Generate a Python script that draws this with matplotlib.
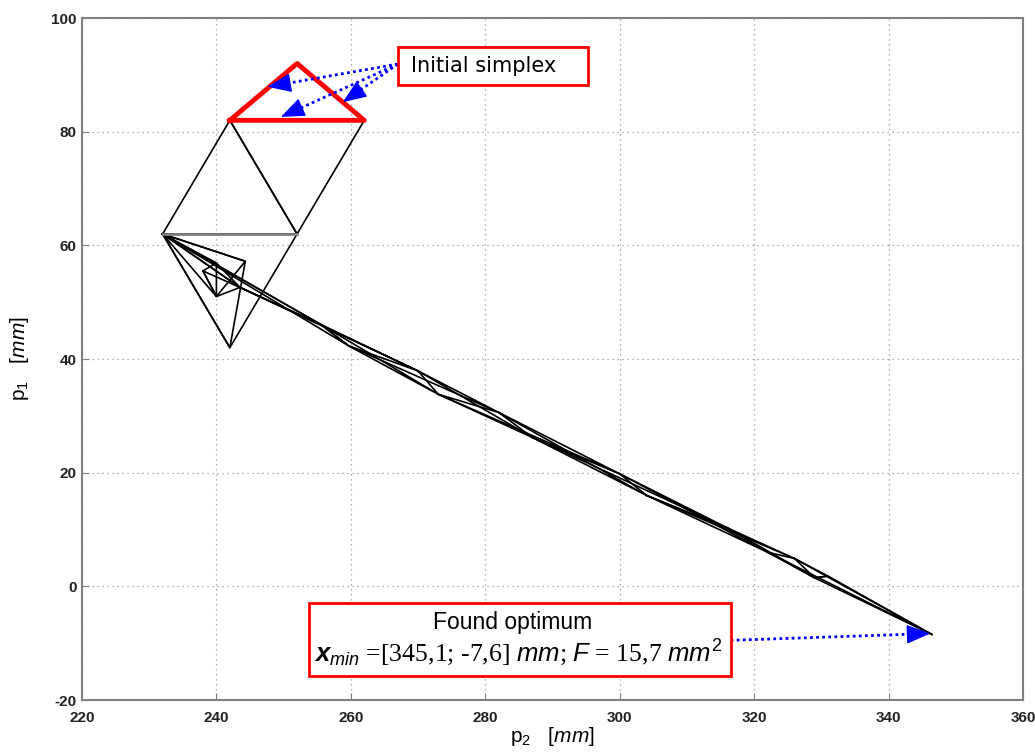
import matplotlib
matplotlib.use("Agg")
import matplotlib.pyplot as plt
from matplotlib.patches import Rectangle

plt.rcParams['font.family'] = ['Liberation Sans', 'DejaVu Sans']
plt.rcParams['mathtext.fontset'] = 'custom'
plt.rcParams['mathtext.it'] = 'Liberation Sans:italic'
plt.rcParams['mathtext.bf'] = 'Liberation Sans:italic:bold'
plt.rcParams['mathtext.rm'] = 'Liberation Sans'
plt.rcParams['axes.unicode_minus'] = False

# Initial simplex (p2, p1)
init_p2 = [242, 252, 262]
init_p1 = [82, 92, 82]

# Simplex triangles visited by the search (p2, p1 vertices)
tri_p2 = [
    [242, 262, 252],
    [242, 252, 232],
    [232, 252, 242],
    [232, 242, 244.3],
    [232, 244.3, 240],
    [238, 240, 240],
    [238, 240, 243.5],
    [232, 240, 243.5],
    [232, 243.5, 255.5],
    [232, 255.5, 259.7],
    [243.5, 255.5, 270],
    [255.5, 259.7, 273],
    [259.7, 270, 282],
    [270, 273, 287],
    [273, 282, 300],
    [282, 287, 304],
    [287, 300, 316],
    [300, 304, 322],
    [304, 316, 326],
    [316, 322, 329],
    [322, 326, 346.5],
    [326, 329, 331],
    [329, 346.5, 331],
]
tri_p1 = [
    [82, 82, 62],
    [82, 62, 62],
    [62, 62, 42],
    [62, 42, 57.2],
    [62, 57.2, 51],
    [55.5, 56.9, 51],
    [55.5, 51, 52.6],
    [62, 56.9, 52.6],
    [62, 52.6, 46.1],
    [62, 46.1, 42.3],
    [52.6, 46.1, 37.9],
    [46.1, 42.3, 33.8],
    [42.3, 37.9, 30.6],
    [37.9, 33.8, 26.2],
    [33.8, 30.6, 19.8],
    [30.6, 26.2, 16.0],
    [26.2, 19.8, 10.3],
    [19.8, 16.0, 6.0],
    [16.0, 10.3, 4.9],
    [10.3, 6.0, 1.5],
    [6.0, 4.9, -8.5],
    [4.9, 1.5, 1.8],
    [1.5, -8.5, 1.8],
]

# gray edge
gray_p2 = [232, 252]
gray_p1 = [62, 62]

optimum = (346.2, -8.3)

xticks = [220, 240, 260, 280, 300, 320, 340, 360]
yticks = [-20, 0, 20, 40, 60, 80, 100]

fig = plt.figure(figsize=(10.35, 7.54), dpi=100)
ax = fig.add_axes([0.0792, 0.0716, 0.9092, 0.9045])

for xs, ys in zip(tri_p2, tri_p1):
    ax.plot(xs + [xs[0]], ys + [ys[0]], color='black', lw=1.2, zorder=3)
ax.plot(gray_p2, gray_p1, color='#7f7f7f', lw=2, zorder=3.5)
ax.plot(init_p2 + [init_p2[0]], init_p1 + [init_p1[0]], color='red', lw=3.5, zorder=4)

ax.set_xlim(220, 360)
ax.set_ylim(-20, 100)
ax.set_xticks(xticks)
ax.set_yticks(yticks)
ax.grid(True, linestyle=(0, (1, 3)), color='#999999', lw=0.9)
ax.tick_params(direction='in', length=5, color='#808080', labelsize=11)
ax.tick_params(axis='x', pad=8)
ax.tick_params(axis='y', pad=4)
for lab in ax.get_xticklabels() + ax.get_yticklabels():
    lab.set_fontweight('bold')
    lab.set_color('#222222')
for s in ax.spines.values():
    s.set_color('#808080')
    s.set_linewidth(1.5)

ax.set_xlabel(r'p$_2$   $[mm]$', fontsize=15, labelpad=0)
ax.set_ylabel(r'p$_1$   $[mm]$', fontsize=15, labelpad=14)


def blue_arrow(start, tgt, head_px=15):
    fig.canvas.draw()
    s = ax.transData.transform(start)
    t = ax.transData.transform(tgt)
    d = t - s
    u = d / ((d ** 2).sum() ** 0.5)
    base = ax.transData.inverted().transform(t - u * head_px)
    ax.plot([start[0], base[0]], [start[1], base[1]], color='blue', lw=2.0,
            linestyle=(0, (1, 1.2)), zorder=5)
    ax.annotate('', xy=tgt, xytext=base, zorder=5,
                arrowprops=dict(arrowstyle='-|>,head_length=0.75,head_width=0.3',
                                color='blue', lw=1, mutation_scale=20,
                                shrinkA=0, shrinkB=0))


# Initial simplex annotation
ax.add_patch(Rectangle((267.0, 88.2), 28.3, 6.7, facecolor='white', edgecolor='red',
                       lw=2, zorder=6))
ax.text(268.9, 91.5, 'Initial simplex', fontsize=15, family='DejaVu Sans',
        ha='left', va='center', zorder=7)
start = (267.0, 91.9)
for tgt in [(247.6, 87.9), (249.6, 82.6), (258.8, 85.2)]:
    blue_arrow(start, tgt)

# Found optimum annotation
ax.add_patch(Rectangle((253.8, -15.8), 62.7, 12.8, facecolor='white', edgecolor='red',
                       lw=2, zorder=6))
ax.text(284.1, -6.4, 'Found optimum', fontsize=16.5, ha='center', va='center', zorder=7)
ax.text(284.9, -11.6,
        r'$\mathbf{x}_{\mathit{min}}$ =[345,1; -7,6] $\mathit{mm}$; $\mathit{F}$ = 15,7 $\mathit{mm}^2$',
        fontsize=18.5, family='Liberation Serif', ha='center', va='center', zorder=7)
blue_arrow((316.5, -9.5), optimum)

fig.savefig('out.png', dpi=100)
